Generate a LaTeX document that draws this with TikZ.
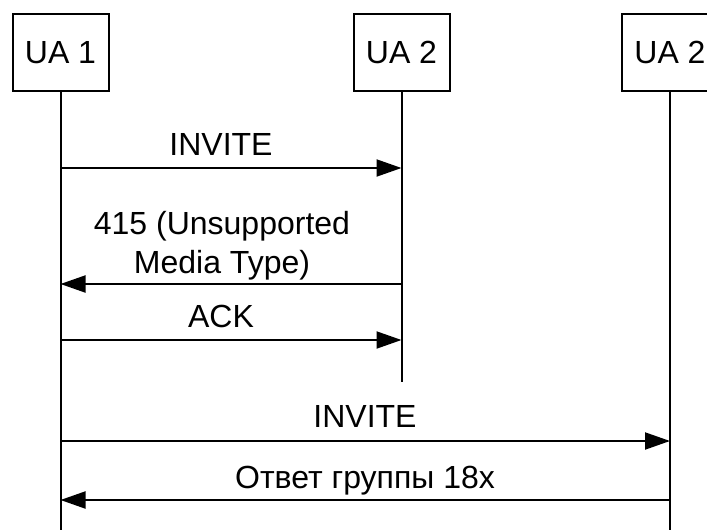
\documentclass[tikz,border=0pt]{standalone}
\usepackage{fontspec}
\setmainfont{Liberation Sans}
\usetikzlibrary{arrows.meta}
\begin{document}
\begin{tikzpicture}[x=1pt,y=-1pt,line width=2pt,
  entity/.style={draw,minimum width=96pt,minimum height=77pt,inner sep=0pt,font=\fontsize{32}{38}\selectfont},
  msg/.style={-{Triangle[length=25pt,width=17pt]}},
  lbl/.style={font=\fontsize{32}{39}\selectfont,inner sep=0pt,anchor=base,align=center}]
\useasboundingbox (0,0) rectangle (707,530);
\clip (0,0) rectangle (707,530);
% entities
\node[entity] (ua1) at (60.5,52.5) {UA 1};
\node[entity] (ua2) at (401.5,52.5) {UA 2};
\node[entity] (ua3) at (670,52.5) {UA 2};
% lifeline ends
\coordinate (ua1end) at (60.5,532);
\coordinate (ua2end) at (401.5,382);
\coordinate (ua3end) at (670,532);
\draw (ua1.south) -- (ua1end);
\draw (ua2.south) -- (ua2end);
\draw (ua3.south) -- (ua3end);
% message points
\coordinate (m1a) at (60.5,168);  \coordinate (m1b) at (401.5,168);
\coordinate (m2a) at (401.5,284); \coordinate (m2b) at (60.5,284);
\coordinate (m3a) at (60.5,340);  \coordinate (m3b) at (401.5,340);
\coordinate (m4a) at (60.5,441);  \coordinate (m4b) at (670,441);
\coordinate (m5a) at (670,500);   \coordinate (m5b) at (60.5,500);
\draw[msg] (m1a) -- (m1b);
\draw[msg] (m2a) -- (m2b);
\draw[msg] (m3a) -- (m3b);
\draw[msg] (m4a) -- (m4b);
\draw[msg] (m5a) -- (m5b);
% labels
\node[lbl] (l1) at (221,155) {INVITE};
\node[lbl,anchor=south] (l2) at (222,281) {415 (Unsupported\\Media Type)};
\node[lbl] (l3) at (221,327) {ACK};
\node[lbl] (l4) at (365,427) {INVITE};
\node[lbl] (l5) at (365,488) {Ответ группы 18x};
\end{tikzpicture}
\end{document}
